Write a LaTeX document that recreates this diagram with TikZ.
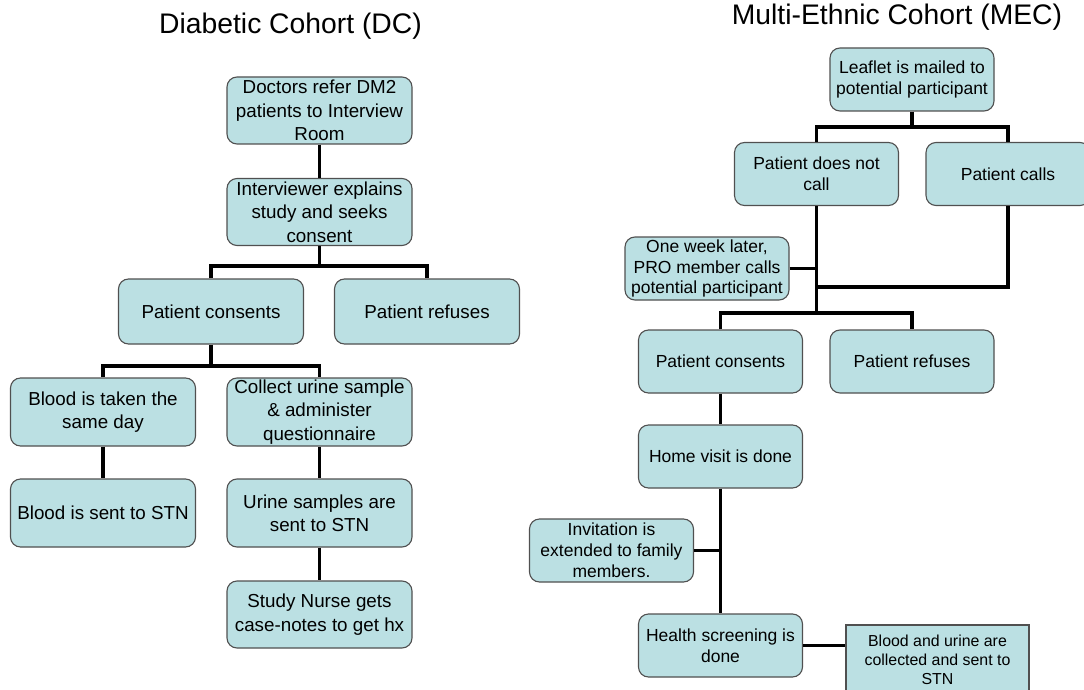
\documentclass[tikz,border=0pt]{standalone}
\usepackage{fontspec}
\setmainfont{Liberation Sans}
\definecolor{boxfill}{RGB}{187,224,227}
\definecolor{boxline}{RGB}{80,80,80}
\begin{document}
\begin{tikzpicture}[x=1pt,y=-1pt,
  box/.style={draw=boxline, line width=1.1pt, fill=boxfill, rounded corners=10pt, inner sep=0pt, align=center, text=black},
  dcbox/.style={box, minimum width=185pt, minimum height=67pt, font=\fontsize{18.8}{23.3}\selectfont},
  mecbox/.style={box, minimum width=164pt, minimum height=63pt, font=\fontsize{17.5}{20.8}\selectfont},
  sqbox/.style={box, rounded corners=0pt, minimum width=183pt, minimum height=70pt, font=\fontsize{15.9}{19}\selectfont},
  conn/.style={line width=3.6pt, line join=miter, black},
  thinconn/.style={line width=3pt, line join=miter, black},
  ttl/.style={anchor=base, inner sep=0pt, font=\fontsize{28.3}{34}\selectfont}]
\useasboundingbox (0,0) rectangle (1084,690);
\fill[white] (0,0) rectangle (1084,690);
\clip (0,0) rectangle (1084,690);

% ---------- Titles ----------
\node[ttl] (tdc) at (290.5,34) {Diabetic Cohort (DC)};
\node[ttl] (tmec) at (897,25) {Multi-Ethnic Cohort (MEC)};

% ---------- Diabetic Cohort ----------
\node[dcbox] (doc) at (319.5,110.5) {Doctors refer DM2\\patients to Interview\\Room};
\node[dcbox] (int) at (319.5,212) {Interviewer explains\\study and seeks\\consent};
\node[dcbox, minimum height=65pt] (pc) at (211,311.5) {Patient consents};
\node[dcbox, minimum height=65pt] (pr) at (427,311.5) {Patient refuses};
\node[dcbox, minimum height=68pt] (bt) at (103,412) {Blood is taken the\\same day};
\node[dcbox, minimum height=68pt] (cu) at (319.5,412) {Collect urine sample\\\& administer\\questionnaire};
\node[dcbox, minimum height=68pt] (bs) at (103,513) {Blood is sent to STN};
\node[dcbox, minimum height=68pt] (us) at (319.5,513) {Urine samples are\\sent to STN};
\node[dcbox] (sn) at (319.5,614.5) {Study Nurse gets\\case-notes to get hx};

\coordinate (b1) at (319.5,266);
\coordinate (b2) at (211,366);
\draw[conn] (doc.south) -- (int.north);
\draw[conn] (int.south) -- (b1);
\draw[conn] (pc.north) |- (b1) -| (pr.north);
\draw[conn] (pc.south) -- (b2);
\draw[conn] (bt.north) |- (b2) -| (cu.north);
\draw[conn] (bt.south) -- (bs.north);
\draw[conn] (cu.south) -- (us.north);
\draw[conn] (us.south) -- (sn.north);

% ---------- Multi-Ethnic Cohort ----------
\node[mecbox] (leaf) at (912,79.5) {Leaflet is mailed to\\potential participant};
\node[mecbox] (pdn) at (816.5,174) {Patient does not\\call};
\node[mecbox] (pcall) at (1008,174) {Patient calls};
\node[mecbox] (week) at (707,268.5) {One week later,\\PRO member calls\\potential participant};
\node[mecbox] (mpc) at (720.5,361.5) {Patient consents};
\node[mecbox] (mpr) at (912,361.5) {Patient refuses};
\node[mecbox] (home) at (720.5,456.5) {Home visit is done};
\node[mecbox] (inv) at (611.5,550.5) {Invitation is\\extended to family\\members.};
\node[mecbox] (hs) at (720.5,645.5) {Health screening is\\done};
\node[sqbox] (bu) at (937.5,660) {Blood and urine are\\collected and sent to\\STN};

\coordinate (m1) at (912,127);
\coordinate (m2) at (816.5,287);
\coordinate (m3) at (816.5,313);
\draw[conn] (leaf.south) -- (m1);
\draw[conn] (pdn.north) |- (m1) -| (pcall.north);
\draw[conn] (pdn.south) -- (m3);
\draw[conn] (pcall.south) |- (m2);
\draw[conn] (week.east) -- (week.east -| pdn.south);
\draw[conn] (mpc.north) |- (m3) -| (mpr.north);
\draw[conn] (mpc.south) -- (home.north);
\draw[conn] (home.south) -- (hs.north);
\draw[conn] (inv.east) -- (inv.east -| home.south);
\draw[thinconn] (hs.east) -- (hs.east -| bu.west);
\end{tikzpicture}
\end{document}
